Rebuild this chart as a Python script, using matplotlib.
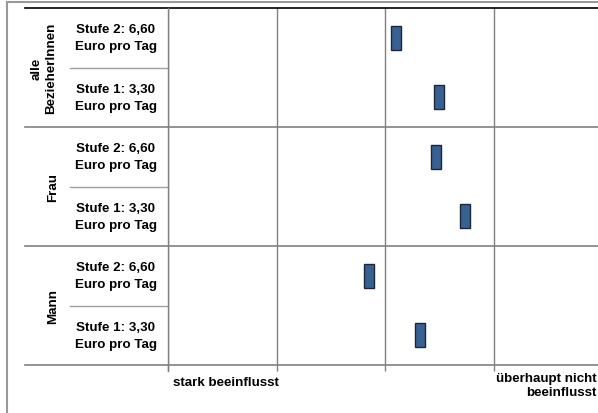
import matplotlib
matplotlib.use("Agg")
from matplotlib import pyplot as plt
from matplotlib.lines import Line2D

plt.rcParams['font.family'] = ['Liberation Sans', 'DejaVu Sans']

# Daten
gruppen = ["alle\nBezieherInnen", "Frau", "Mann"]
stufen = ["Stufe 2: 6,60\nEuro pro Tag", "Stufe 1: 3,30\nEuro pro Tag"]
werte = [3.10, 3.50, 3.47, 3.74, 2.85, 3.32]
skala_links = "stark beeinflusst"
skala_rechts = "überhaupt nicht\nbeeinflusst"

W, H = 598, 414
fig = plt.figure(figsize=(W / 100, H / 100), dpi=100)

# Plotbereich in Pixeln
x0, x1, y0, y1 = 168, 598, 9, 366
ax = fig.add_axes([x0 / W, 1 - y1 / H, (x1 - x0) / W, (y1 - y0) / H])
px_per_unit = 108.5
ax.set_xlim(1, 1 + (x1 - x0) / px_per_unit)
ax.set_ylim(len(werte), 0)

pos = [i + 0.5 for i in range(len(werte))]
ax.bar(werte, 0.40, bottom=[p - 0.20 for p in pos], width=10 / px_per_unit,
       color="#386193", edgecolor="#1b2638", linewidth=1.0, zorder=3)

ax.set_xticks([1, 2, 3, 4])
ax.set_xticklabels([])
ax.set_yticks([])
ax.tick_params(axis="x", length=4.5, color="#808080", width=1)
ax.grid(axis="x", color="#808080", linewidth=1)
for s in ax.spines.values():
    s.set_visible(False)


def fx(px):
    return px / W


def fy(py):
    return 1 - py / H


# Linien
fig.add_artist(Line2D([fx(25), 1], [fy(9), fy(9)], color="black", lw=1.2))
for yy in [128, 247, 366]:
    fig.add_artist(Line2D([fx(25), 1], [fy(yy), fy(yy)], color="#808080", lw=1.2))
for yy in [69, 188, 307]:
    fig.add_artist(Line2D([fx(70), fx(168)], [fy(yy), fy(yy)], color="#a0a0a0", lw=1))
fig.add_artist(Line2D([fx(168), fx(168)], [fy(9), fy(372)], color="#808080", lw=1))

# Rahmen
fig.add_artist(Line2D([fx(7), 1], [fy(3), fy(3)], color="#999999", lw=1.5))
fig.add_artist(Line2D([fx(7), fx(7)], [fy(3), 0], color="#999999", lw=1.5))

# Beschriftungen
fs = 9.6
gruppen_x = [44, 53, 53]
for i, g in enumerate(gruppen):
    yc = 9 + (i * 2 + 1) * 59.5
    fig.text(fx(gruppen_x[i]), fy(yc), g, rotation=90, ha="center", va="center",
             fontsize=fs, fontweight="bold", linespacing=1.35)
    for j, s in enumerate(stufen):
        yr = 9 + (i * 2 + j + 0.5) * 59.5
        fig.text(fx(116), fy(yr), s, ha="center", va="center", fontsize=fs,
                 fontweight="bold", linespacing=1.55)

fig.text(fx(226), fy(383), skala_links, ha="center", va="center",
         fontsize=fs, fontweight="bold")
fig.text(fx(597), fy(386), skala_rechts, ha="right", va="center",
         fontsize=fs, fontweight="bold", multialignment="right", linespacing=1.2)

fig.savefig("out.png", dpi=100)
